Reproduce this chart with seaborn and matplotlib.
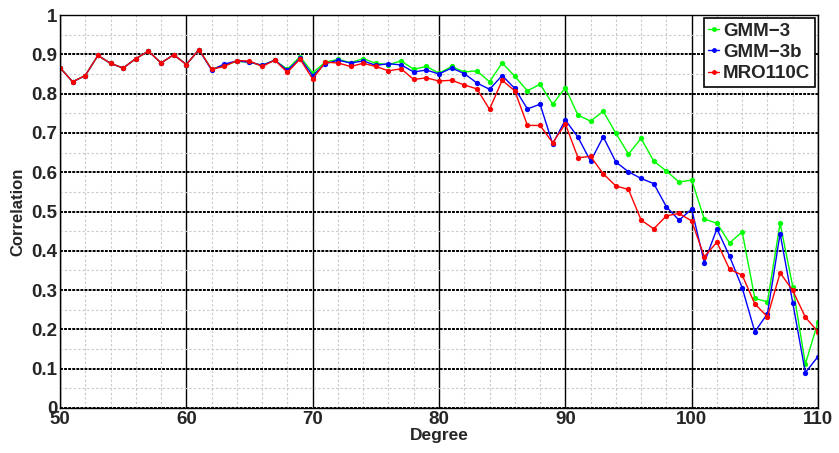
import numpy as np
import pandas as pd
import seaborn as sns
import matplotlib
matplotlib.use("Agg")
import matplotlib.pyplot as plt
from matplotlib.ticker import MultipleLocator, FixedLocator
from matplotlib.lines import Line2D

degrees = list(range(50, 111))

gmm3 = [0.866, 0.830, 0.846, 0.897, 0.877, 0.865, 0.889, 0.908, 0.878, 0.899,
        0.874, 0.912, 0.862, 0.872, 0.882, 0.880, 0.872, 0.885, 0.862, 0.894,
        0.853, 0.880, 0.887, 0.879, 0.889, 0.877, 0.874, 0.883, 0.862, 0.869,
        0.852, 0.869, 0.855, 0.858, 0.830, 0.878, 0.844, 0.807, 0.824, 0.773,
        0.815, 0.745, 0.730, 0.755, 0.699, 0.646, 0.686, 0.628, 0.603, 0.575,
        0.580, 0.481, 0.470, 0.420, 0.448, 0.279, 0.270, 0.470, 0.309, 0.112,
        0.219]
gmm3b = [0.866, 0.830, 0.846, 0.897, 0.877, 0.865, 0.889, 0.908, 0.878, 0.899,
         0.874, 0.912, 0.860, 0.875, 0.883, 0.880, 0.872, 0.885, 0.859, 0.890,
         0.846, 0.876, 0.885, 0.878, 0.883, 0.872, 0.876, 0.873, 0.855, 0.860,
         0.850, 0.865, 0.851, 0.827, 0.811, 0.846, 0.813, 0.761, 0.773, 0.672,
         0.733, 0.689, 0.628, 0.690, 0.626, 0.601, 0.584, 0.571, 0.512, 0.478,
         0.506, 0.370, 0.456, 0.386, 0.306, 0.194, 0.240, 0.444, 0.268, 0.090,
         0.131]
mro110c = [0.866, 0.830, 0.846, 0.897, 0.877, 0.865, 0.889, 0.908, 0.878, 0.899,
           0.874, 0.912, 0.862, 0.869, 0.884, 0.883, 0.869, 0.885, 0.854, 0.888,
           0.837, 0.880, 0.878, 0.869, 0.877, 0.869, 0.858, 0.863, 0.836, 0.840,
           0.832, 0.834, 0.822, 0.812, 0.760, 0.834, 0.807, 0.719, 0.719, 0.675,
           0.723, 0.637, 0.640, 0.596, 0.565, 0.556, 0.478, 0.456, 0.489, 0.495,
           0.476, 0.385, 0.422, 0.353, 0.338, 0.265, 0.232, 0.344, 0.299, 0.231,
           0.194]

series_names = ["GMM\u22123", "GMM\u22123b", "MRO110C"]
series_colors = ["#00ff00", "#0000ff", "#ff0000"]

df = pd.concat([
    pd.DataFrame({"Degree": degrees, "Correlation": vals, "Model": name})
    for name, vals in zip(series_names, [gmm3, gmm3b, mro110c])
], ignore_index=True)

sns.set_theme(style="white")
plt.rcParams["font.family"] = ["Liberation Sans", "DejaVu Sans"]
plt.rcParams["font.weight"] = "bold"

fig = plt.figure(figsize=(8.39, 4.53), dpi=100)
ax = fig.add_axes([60/839, 1 - 408/453, (818 - 60)/839, (408 - 15)/453])

sns.lineplot(data=df, x="Degree", y="Correlation", hue="Model",
             hue_order=series_names, palette=series_colors,
             marker="o", markersize=3.8, markeredgewidth=0, linewidth=1.0,
             ax=ax, legend=False)

ax.set_xlim(50, 110)
ax.set_ylim(0, 1)
ax.xaxis.set_major_locator(MultipleLocator(10))
ax.xaxis.set_minor_locator(MultipleLocator(2))
ax.yaxis.set_major_locator(FixedLocator([i / 10 for i in range(11)]))
ax.yaxis.set_minor_locator(MultipleLocator(0.05))
ax.set_yticklabels(["0"] + [f"{i/10:.1f}" for i in range(1, 10)] + ["1"])

ax.grid(which="minor", color="#c8c8c8", linestyle=(0, (2, 2)), linewidth=0.8)
ax.grid(which="major", axis="x", color="black", linestyle="-", linewidth=1.0)
ax.grid(which="major", axis="y", color="black", linestyle=(0, (1.5, 0.6)), linewidth=1.4)
ax.set_axisbelow(True)

for sp in ax.spines.values():
    sp.set_color("black")
    sp.set_linewidth(1.0)

ax.tick_params(axis="both", which="major", labelsize=13.5, direction="in",
               length=4, color="black", pad=2)
ax.tick_params(axis="both", which="minor", length=0)
for lbl in ax.get_xticklabels() + ax.get_yticklabels():
    lbl.set_fontweight("bold")

ax.set_xlabel("Degree", fontsize=12.5, fontweight="bold", labelpad=0)
ax.set_ylabel("Correlation", fontsize=12, fontweight="bold", labelpad=4)

handles = [Line2D([0], [0], color=c, marker="o", markersize=3.5,
                  markeredgewidth=0, linewidth=1.0) for c in series_colors]
leg = ax.legend(handles, series_names, loc="upper right", frameon=True,
                fancybox=False, framealpha=1, edgecolor="black",
                prop={"weight": "bold", "size": 13.5}, handlelength=0.6,
                handletextpad=0.2, borderpad=0.25, labelspacing=0.22,
                borderaxespad=0.15)
leg.get_frame().set_linewidth(1.2)

fig.savefig("out.png", dpi=100)
